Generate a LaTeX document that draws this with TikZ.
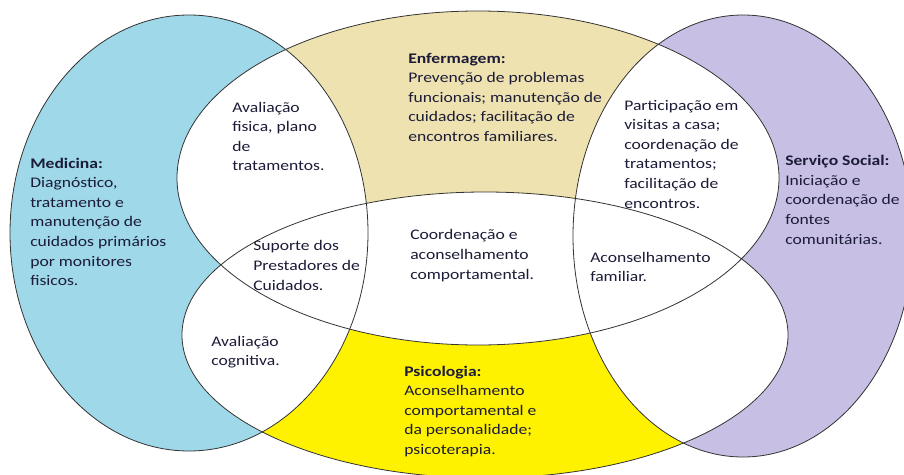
\documentclass[tikz,border=0pt]{standalone}
\usepackage{fontspec}
\setmainfont{Carlito}[FakeStretch=1.2]
\definecolor{medblue}{HTML}{9ED8E9}
\definecolor{enftan}{HTML}{EEE2B0}
\definecolor{psiyel}{HTML}{FFF200}
\definecolor{socpur}{HTML}{C7BFE4}
\definecolor{ink}{HTML}{1C1C38}
\definecolor{edge}{HTML}{333333}
\begin{document}
\begin{tikzpicture}[x=0.75pt,y=-0.75pt,
  txt/.style={anchor=base west, align=left, inner sep=0pt, text=ink,
    font=\fontsize{11}{14.7}\selectfont},
  outline/.style={draw=edge, line width=0.6pt}]
\useasboundingbox (0,0) rectangle (904,475);
\clip (0,0) rectangle (904,475);
\def\EA{(189,233) ellipse [x radius=134.25pt, y radius=163.5pt]}
\def\EB{(478,178) ellipse [x radius=225.75pt, y radius=125.25pt]}
\def\EC{(485,335) ellipse [x radius=227.25pt, y radius=107.25pt]}
\def\ED{(743,236) ellipse [x radius=127.5pt, y radius=165.75pt]}
\fill[white] (0,0) rectangle (904,475);
\fill[medblue] \EA;
\fill[enftan] \EB;
\fill[psiyel] \EC;
\fill[socpur] \ED;
\begin{scope}
  \clip \EA;
  \fill[white] \EB;
  \fill[white] \EC;
\end{scope}
\begin{scope}
  \clip \EB;
  \fill[white] \EC;
  \fill[white] \ED;
\end{scope}
\begin{scope}
  \clip \EC;
  \fill[white] \ED;
\end{scope}
\draw[outline] \EA;
\draw[outline] \EB;
\draw[outline] \EC;
\draw[outline] \ED;

% anchors are at the baseline of the last line of each text
\node[txt] (med) at (30,285.6) {\textbf{Medicina:}\\Diagnóstico,\\tratamento e\\manutenção de\\cuidados primários\\por monitores\\fisicos.};
\node[txt] (enf) at (408,141.4) {\textbf{Enfermagem:}\\Prevenção de problemas\\funcionais; manutenção de\\cuidados; facilitação de\\encontros familiares.};
\node[txt] (psi) at (404,454.4) {\textbf{Psicologia:}\\Aconselhamento\\comportamental e\\da personalidade;\\psicoterapia.};
\node[txt] (soc) at (785,244) {\textbf{Serviço Social:}\\Iniciação e\\coordenação de\\fontes\\comunitárias.};
\node[txt] (avf) at (232,170.8) {Avaliação\\fisica, plano\\de\\tratamentos.};
\node[txt] (par) at (624,208) {Participação em\\visitas a casa;\\coordenação de\\tratamentos;\\facilitação de\\encontros.};
\node[txt] (coo) at (410,279) {Coordenação e\\aconselhamento\\comportamental.};
\node[txt] (sup) at (253,290) {Suporte dos\\Prestadores de\\Cuidados.};
\node[txt] (acf) at (590,281.6) {Aconselhamento\\familiar.};
\node[txt] (avc) at (211,365.6) {Avaliação\\cognitiva.};
\end{tikzpicture}
\end{document}
